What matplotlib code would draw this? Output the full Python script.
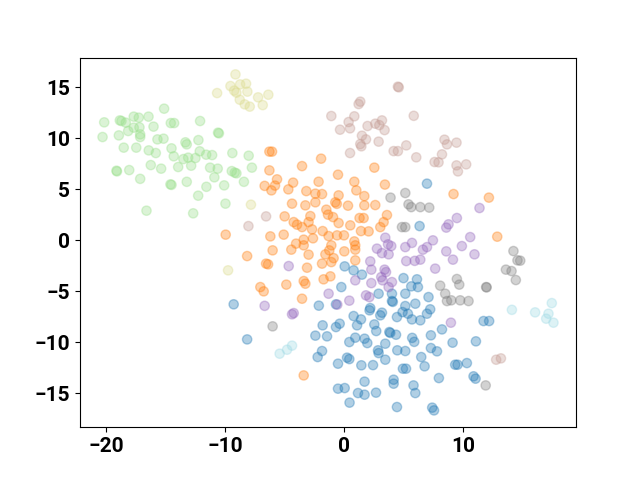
import numpy as np
import matplotlib
matplotlib.use("Agg")
import matplotlib.pyplot as plt

# cluster 0 (blue)
x0 = [0.03, 0.78, 1.48, -0.25, 2.88, 4.00, 4.97, 5.62, 5.12, 4.00, 4.07, -2.14, -0.70, 2.18, 5.12,
      6.94, 6.32, 6.10, 6.18, 7.07, 5.96, 7.21, -8.16, -9.29, -1.82, -2.43, -1.45, -0.70, -0.39, 0.78,
      1.07, 1.40, 2.12, 3.02, 3.16, 4.89, 5.34, 4.42, 5.68, 2.52, 2.68, 3.78, 3.86, 4.34, 5.70,
      5.87, 0.92, 1.70, 1.93, 0.42, -1.87, -2.24, 0.23, 0.42, -0.53, 1.43, 2.41, 2.83, 2.88, 3.44,
      3.44, 4.45, 5.12, 4.92, 5.18, 1.70, 4.14, 4.14, -0.53, 0.03, 1.15, 1.70, 2.66, 5.81, 5.96,
      0.44, 4.42, 6.38, 6.94, 8.20, 7.27, 9.09, 11.05, 11.69, 12.16, 7.27, 7.78, 6.46, 6.74, 9.31,
      9.51, 10.29, 10.85, 11.02, 7.94, 7.38, 7.53]
y0 = [-2.55, -2.94, -3.36, -4.58, -5.23, -5.23, -3.70, -4.51, -5.23, -5.95, -6.03, -6.40, -6.27, -6.64, -6.44,
      5.56, 1.40, -3.82, -4.58, -5.56, -6.21, -6.76, -9.71, -6.27, -8.33, -9.34, -9.41, -8.50, -8.17, -7.42,
      -8.33, -7.75, -6.86, -7.35, -7.09, -7.03, -7.19, -7.52, -7.75, -8.24, -8.89, -8.99, -9.07, -9.25, -9.56,
      -9.95, -9.54, -9.64, -10.07, -9.97, -10.85, -11.44, -11.50, -11.64, -12.09, -12.25, -12.23, -10.78, -11.05, -10.13,
      -11.70, -10.78, -10.85, -12.58, -12.58, -13.85, -13.66, -14.05, -14.54, -14.48, -14.97, -15.13, -14.93, -14.22, -14.97,
      -15.91, -16.34, -7.84, -7.19, -8.73, -9.31, -10.03, -9.90, -7.91, -7.91, -10.56, -10.88, -11.44, -12.35, -12.19,
      -12.19, -12.03, -13.33, -13.56, -13.50, -16.40, -16.67]

# cluster 1 (orange)
x1 = [-6.29, -6.07, -1.95, -3.55, 2.52, -6.29, -5.65, -0.53, -4.30, -2.16, 0.84, -6.69, -5.82, 3.41, -4.70,
      -6.12, -3.19, -2.43, -1.87, -0.48, 1.01, 1.68, -4.39, -3.27, -2.43, -0.76, -0.63, 0.31, 1.68, 2.60,
      -5.01, -2.85, -1.51, -1.37, -0.95, -0.48, 0.50, 1.28, 1.62, 3.58, 3.30, 3.02, -4.25, -3.97, -3.00,
      -3.55, -2.71, -1.82, -1.32, -0.61, -0.03, 1.40, 2.04, -5.09, -6.21, -2.63, -3.41, -4.05, -3.41, -4.45,
      -6.02, 0.84, 0.92, 0.92, -1.09, -1.26, 0.00, -3.00, -1.59, -0.90, -1.87, -1.09, 0.92, -6.57, -6.40,
      -3.13, -1.17, -1.74, -3.41, -3.27, -4.87, -7.05, -6.77, -3.55, -8.16, -9.96, -3.41, 9.17, 12.14, 12.84]
y1 = [8.70, 8.70, 8.01, 7.28, 7.13, 6.86, 5.98, 6.44, 5.66, 5.75, 5.75, 5.34, 5.37, 5.47, 5.00,
      4.90, 4.83, 4.58, 4.54, 4.41, 4.90, 4.34, 3.60, 3.43, 3.73, 3.73, 3.58, 3.40, 3.43, 3.46,
      2.35, 2.38, 3.01, 2.52, 2.28, 1.70, 1.47, 2.19, 2.19, 2.48, 1.79, 1.30, 1.79, 1.54, 1.79,
      1.30, 1.08, 0.91, 0.42, 0.49, 0.49, 0.91, 0.88, 0.56, 0.39, 0.20, 0.07, -0.32, -0.49, -0.91,
      -0.98, -0.10, -0.49, -0.91, -0.49, -0.98, -1.08, -1.40, -1.37, -1.74, -2.28, -2.13, -1.96, -2.28, -2.35,
      -2.68, -3.53, -3.82, -3.99, -4.25, -4.34, -4.58, -5.00, -5.72, -1.54, 0.56, -13.24, 4.54, 4.19, 0.36]

# cluster 2 (light green)
x2 = [-15.13, -20.16, -18.85, -18.71, -18.35, -17.68, -17.26, -16.44, -17.68, -17.20, -18.15, -16.02, -14.57, -14.29, -12.11,
      -20.30, -18.93, -17.14, -17.14, -15.69, -15.18, -13.34, -13.23, -12.25, -10.60, -10.53, -18.52, -17.47, -16.42, -15.83,
      -14.51, -14.32, -13.51, -13.11, -12.50, -12.86, -12.14, -11.60, -11.10, -9.40, -8.03, -19.13, -19.09, -18.06, -16.25,
      -15.38, -13.95, -11.27, -10.63, -9.45, -9.20, -9.06, -7.76, -17.14, -14.60, -14.51, -13.23, -10.91, -11.58, -10.09,
      -8.43, -12.27, -9.98, -16.61, -12.69]
y2 = [12.91, 11.57, 11.76, 11.70, 11.54, 12.13, 12.03, 12.13, 11.05, 11.08, 10.72, 11.15, 11.50, 11.50, 11.70,
      10.13, 10.29, 10.13, 10.39, 9.90, 9.97, 9.61, 9.41, 9.83, 10.56, 10.49, 9.09, 9.09, 8.82, 8.56,
      9.02, 8.24, 7.97, 8.11, 8.07, 7.32, 8.73, 8.40, 8.36, 8.56, 8.30, 6.83, 6.76, 6.89, 7.38,
      7.03, 7.19, 7.13, 7.03, 6.79, 6.64, 6.57, 7.13, 6.03, 5.49, 5.44, 5.74, 6.18, 5.25, 5.39,
      5.74, 4.38, 3.60, 2.91, 2.65]

# cluster 3 (purple)
x3 = [3.44, 3.67, 3.94, 2.74, 3.16, 3.72, 5.12, 5.68, 2.18, 2.27, 3.38, 3.50, 3.10, 3.21, 4.00,
      3.72, 5.20, 5.91, 0.92, 2.27, -4.67, -1.32, 1.82, 2.10, 0.42, -6.69, 11.35, 8.75, 8.56, 9.45,
      10.57, 7.44, 6.94, 6.60, 8.56, 9.87, 10.93, 9.12, 6.38, 7.63, -4.39, -4.25, -0.59, 8.95]
y3 = [0.26, -0.39, -0.56, -0.81, -1.25, -1.37, -0.66, -0.25, -2.06, -2.87, -2.87, -3.11, -3.60, -3.92, -4.09,
      -4.58, -2.03, -2.01, -3.92, -4.19, -2.52, -5.23, -5.39, -5.56, -5.91, -6.42, 3.17, 1.57, 1.25, 2.19,
      0.32, 0.00, -0.66, -0.91, -1.08, -0.56, -1.37, -1.89, -1.89, -2.77, -7.25, -7.13, -6.30, -8.07]

# cluster 4 (light brown)
x4 = [4.50, 4.57, 1.34, 1.20, -1.09, 0.84, 0.36, -0.36, 0.48, 1.95, 2.60, 2.94, 3.16, 3.38, 1.48,
      1.82, 1.34, 1.43, 2.88, 0.48, 4.14, 4.50, 5.20, 5.83, 6.04, 8.41, 8.62, 9.42, 8.20, 7.58,
      7.91, 9.42, 9.54, 10.23, -8.05, -6.57, 12.75, 13.15]
y4 = [15.07, 15.00, 13.60, 13.36, 12.19, 12.16, 11.60, 10.85, 10.98, 11.21, 11.44, 11.30, 11.76, 10.81, 10.26,
      9.90, 9.44, 9.22, 9.68, 8.56, 8.75, 8.75, 9.31, 12.21, 8.14, 9.87, 9.41, 9.58, 8.43, 7.68,
      7.65, 7.35, 6.76, 7.45, 1.40, 2.35, -11.70, -11.57]

# cluster 5 (grey)
x5 = [3.88, 5.12, 5.39, 5.62, 4.84, 5.12, 6.38, 7.13, 14.20, 14.54, 14.77, 13.57, 14.04, 14.40, 9.45,
      9.65, 8.05, 8.47, 11.91, 11.95, 8.62, 8.98, 9.73, 10.43, -6.02, 11.87]
y5 = [4.19, 4.64, 3.53, 3.26, 1.30, 1.30, 3.26, 3.21, -1.05, -1.96, -1.99, -2.87, -3.01, -3.89, -3.79,
      -4.34, -4.44, -5.23, -4.58, -4.61, -5.95, -5.88, -5.88, -5.95, -8.43, -14.22]

# cluster 6 (light olive)
x6 = [-9.14, -10.68, -9.56, -9.25, -8.75, -8.25, -9.06, -8.14, -8.78, -8.36, -7.94, -7.24, -6.38, -6.85, -7.84,
      -9.76]
y6 = [16.27, 14.44, 15.13, 14.68, 15.29, 15.36, 14.48, 14.58, 13.79, 13.33, 13.11, 14.02, 14.28, 13.26, 3.50,
      -2.94]

# cluster 7 (light cyan)
x7 = [-5.43, -4.81, -4.39, 14.07, 16.02, 17.14, 16.95, 17.56, 17.42]
y7 = [-11.11, -10.72, -10.32, -6.81, -7.06, -7.19, -7.68, -8.07, -6.15]

xs = [x0, x1, x2, x3, x4, x5, x6, x7]
ys = [y0, y1, y2, y3, y4, y5, y6, y7]

x = np.concatenate([np.array(v) for v in xs])
y = np.concatenate([np.array(v) for v in ys])
labels = np.concatenate([np.full(len(v), i) for i, v in enumerate(xs)])

plt.rcParams['font.family'] = ['Roboto', 'DejaVu Sans']

fig, ax = plt.subplots(figsize=(6.4, 4.8), dpi=100)
ax.scatter(x, y, c=labels, cmap='tab20', alpha=0.35, s=45)
ax.set_xticks([-20, -10, 0, 10])
ax.set_yticks([-15, -10, -5, 0, 5, 10, 15])
for lab in ax.get_xticklabels() + ax.get_yticklabels():
    lab.set_fontsize(15)
    lab.set_fontweight('bold')

plt.savefig('out.png', dpi=100)
